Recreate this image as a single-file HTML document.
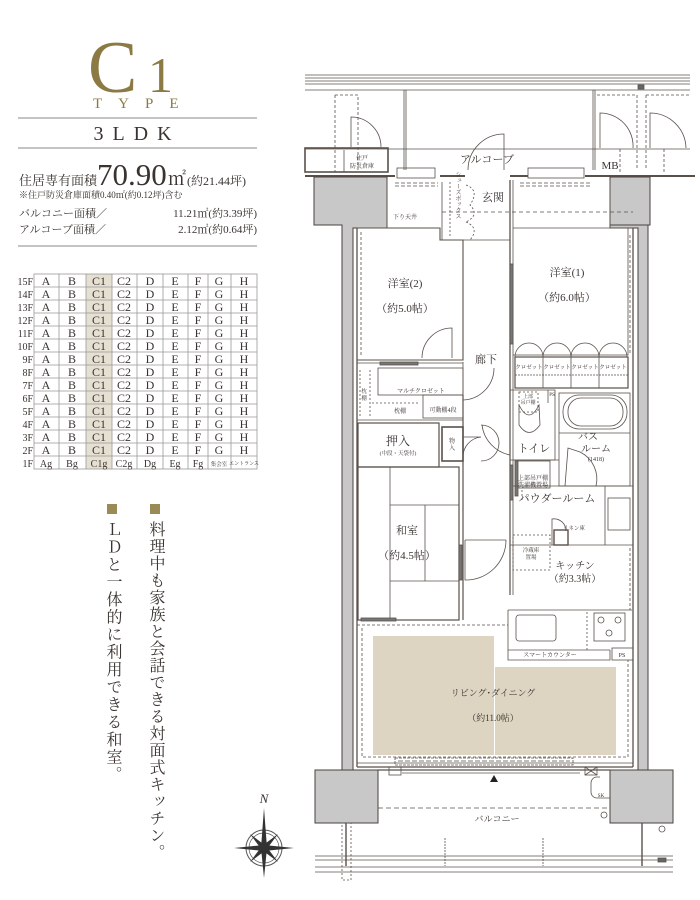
<!DOCTYPE html>
<html><head><meta charset="utf-8"><style>
html,body{margin:0;padding:0;background:#fff;}
body{width:700px;height:900px;overflow:hidden;position:relative;}
svg{position:absolute;left:0;top:0;}
text{font-family:"Liberation Serif","Noto Serif CJK SC",serif;fill:#3a3330;}
.v{position:absolute;writing-mode:vertical-rl;font-family:"Liberation Serif","Noto Serif CJK JP","Noto Serif CJK SC",serif;font-size:16px;color:#3a3330;letter-spacing:1.5px;line-height:1;}
</style></head><body>
<svg width="700" height="900" viewBox="0 0 700 900">
<!-- header -->
<text x="88" y="92" font-size="74" style="fill:#8b7a44">C</text>
<text x="148" y="92" font-size="50" style="fill:#8b7a44">1</text>
<text x="93" y="108" font-size="15" letter-spacing="16" style="fill:#8b7a44">TYPE</text>
<line x1="18" y1="118" x2="257" y2="118" stroke="#888" stroke-width="1"/>
<text x="137" y="140" font-size="20" text-anchor="middle" letter-spacing="9">3LDK</text>
<line x1="18" y1="148" x2="257" y2="148" stroke="#888" stroke-width="1"/>
<text x="19" y="185" font-size="13">住居専有面積</text>
<text x="97" y="185" font-size="31">70.90</text>
<text x="168" y="185" font-size="18">㎡</text>
<text x="187" y="185" font-size="12">(約21.44坪)</text>
<text x="19" y="198" font-size="9">※住戸防災倉庫面積0.40㎡(約0.12坪)含む</text>
<text x="19" y="217" font-size="11">バルコニー面積／</text>
<text x="257" y="217" font-size="11" text-anchor="end">11.21㎡(約3.39坪)</text>
<text x="19" y="233" font-size="11">アルコーブ面積／</text>
<text x="257" y="233" font-size="11" text-anchor="end">2.12㎡(約0.64坪)</text>
<line x1="18" y1="246" x2="257" y2="246" stroke="#888" stroke-width="1"/>
<!-- table -->
<rect x="86" y="274" width="26" height="195" fill="#e6e0d3"/>
<g stroke="#999" stroke-width="0.8" fill="none">
<rect x="34" y="274" width="223" height="195"/>
<line x1="59" y1="274" x2="59" y2="469"/><line x1="86" y1="274" x2="86" y2="469"/><line x1="112" y1="274" x2="112" y2="469"/><line x1="137" y1="274" x2="137" y2="469"/><line x1="163" y1="274" x2="163" y2="469"/><line x1="188" y1="274" x2="188" y2="469"/><line x1="208" y1="274" x2="208" y2="469"/><line x1="231" y1="274" x2="231" y2="469"/>
<line x1="34" y1="287" x2="257" y2="287"/><line x1="34" y1="300" x2="257" y2="300"/><line x1="34" y1="313" x2="257" y2="313"/><line x1="34" y1="326" x2="257" y2="326"/><line x1="34" y1="339" x2="257" y2="339"/><line x1="34" y1="352" x2="257" y2="352"/><line x1="34" y1="365" x2="257" y2="365"/><line x1="34" y1="378" x2="257" y2="378"/><line x1="34" y1="391" x2="257" y2="391"/><line x1="34" y1="404" x2="257" y2="404"/><line x1="34" y1="417" x2="257" y2="417"/><line x1="34" y1="430" x2="257" y2="430"/><line x1="34" y1="443" x2="257" y2="443"/><line x1="34" y1="456" x2="257" y2="456"/>
</g>
<g font-size="10" text-anchor="end">
<text x="33" y="285">15F</text><text x="33" y="298">14F</text><text x="33" y="311">13F</text><text x="33" y="324">12F</text><text x="33" y="337">11F</text><text x="33" y="350">10F</text><text x="33" y="363">9F</text><text x="33" y="376">8F</text><text x="33" y="389">7F</text><text x="33" y="402">6F</text><text x="33" y="415">5F</text><text x="33" y="428">4F</text><text x="33" y="441">3F</text><text x="33" y="454">2F</text><text x="33" y="467">1F</text>
</g>
<g font-size="12" text-anchor="middle">
<text x="46" y="285">A</text><text x="72" y="285">B</text><text x="99" y="285">C1</text><text x="124" y="285">C2</text><text x="150" y="285">D</text><text x="175" y="285">E</text><text x="198" y="285">F</text><text x="219" y="285">G</text><text x="244" y="285">H</text>
<text x="46" y="298">A</text><text x="72" y="298">B</text><text x="99" y="298">C1</text><text x="124" y="298">C2</text><text x="150" y="298">D</text><text x="175" y="298">E</text><text x="198" y="298">F</text><text x="219" y="298">G</text><text x="244" y="298">H</text>
<text x="46" y="311">A</text><text x="72" y="311">B</text><text x="99" y="311">C1</text><text x="124" y="311">C2</text><text x="150" y="311">D</text><text x="175" y="311">E</text><text x="198" y="311">F</text><text x="219" y="311">G</text><text x="244" y="311">H</text>
<text x="46" y="324">A</text><text x="72" y="324">B</text><text x="99" y="324">C1</text><text x="124" y="324">C2</text><text x="150" y="324">D</text><text x="175" y="324">E</text><text x="198" y="324">F</text><text x="219" y="324">G</text><text x="244" y="324">H</text>
<text x="46" y="337">A</text><text x="72" y="337">B</text><text x="99" y="337">C1</text><text x="124" y="337">C2</text><text x="150" y="337">D</text><text x="175" y="337">E</text><text x="198" y="337">F</text><text x="219" y="337">G</text><text x="244" y="337">H</text>
<text x="46" y="350">A</text><text x="72" y="350">B</text><text x="99" y="350">C1</text><text x="124" y="350">C2</text><text x="150" y="350">D</text><text x="175" y="350">E</text><text x="198" y="350">F</text><text x="219" y="350">G</text><text x="244" y="350">H</text>
<text x="46" y="363">A</text><text x="72" y="363">B</text><text x="99" y="363">C1</text><text x="124" y="363">C2</text><text x="150" y="363">D</text><text x="175" y="363">E</text><text x="198" y="363">F</text><text x="219" y="363">G</text><text x="244" y="363">H</text>
<text x="46" y="376">A</text><text x="72" y="376">B</text><text x="99" y="376">C1</text><text x="124" y="376">C2</text><text x="150" y="376">D</text><text x="175" y="376">E</text><text x="198" y="376">F</text><text x="219" y="376">G</text><text x="244" y="376">H</text>
<text x="46" y="389">A</text><text x="72" y="389">B</text><text x="99" y="389">C1</text><text x="124" y="389">C2</text><text x="150" y="389">D</text><text x="175" y="389">E</text><text x="198" y="389">F</text><text x="219" y="389">G</text><text x="244" y="389">H</text>
<text x="46" y="402">A</text><text x="72" y="402">B</text><text x="99" y="402">C1</text><text x="124" y="402">C2</text><text x="150" y="402">D</text><text x="175" y="402">E</text><text x="198" y="402">F</text><text x="219" y="402">G</text><text x="244" y="402">H</text>
<text x="46" y="415">A</text><text x="72" y="415">B</text><text x="99" y="415">C1</text><text x="124" y="415">C2</text><text x="150" y="415">D</text><text x="175" y="415">E</text><text x="198" y="415">F</text><text x="219" y="415">G</text><text x="244" y="415">H</text>
<text x="46" y="428">A</text><text x="72" y="428">B</text><text x="99" y="428">C1</text><text x="124" y="428">C2</text><text x="150" y="428">D</text><text x="175" y="428">E</text><text x="198" y="428">F</text><text x="219" y="428">G</text><text x="244" y="428">H</text>
<text x="46" y="441">A</text><text x="72" y="441">B</text><text x="99" y="441">C1</text><text x="124" y="441">C2</text><text x="150" y="441">D</text><text x="175" y="441">E</text><text x="198" y="441">F</text><text x="219" y="441">G</text><text x="244" y="441">H</text>
<text x="46" y="454">A</text><text x="72" y="454">B</text><text x="99" y="454">C1</text><text x="124" y="454">C2</text><text x="150" y="454">D</text><text x="175" y="454">E</text><text x="198" y="454">F</text><text x="219" y="454">G</text><text x="244" y="454">H</text>
<text x="46" y="467" font-size="10">Ag</text><text x="72" y="467" font-size="10">Bg</text><text x="99" y="467" font-size="10">C1g</text><text x="124" y="467" font-size="10">C2g</text><text x="150" y="467" font-size="10">Dg</text><text x="175" y="467" font-size="10">Eg</text><text x="198" y="467" font-size="10">Fg</text><text x="219" y="466" font-size="5.5">集会室</text><text x="244" y="465" font-size="5">エントランス</text>
</g>
<rect x="107" y="504" width="10" height="10" fill="#9a8a55"/>
<rect x="150" y="504" width="10" height="10" fill="#9a8a55"/>

<!-- compass -->
<g transform="translate(264,848)">
<text x="0" y="-45" font-size="13" font-style="italic" text-anchor="middle">N</text>
<circle r="18" fill="none" stroke="#555" stroke-width="1"/>
<circle r="15" fill="none" stroke="#555" stroke-width="0.7"/>
<polygon points="0,-40 3,0 0,5 -3,0" fill="#333"/>
<polygon points="0,30 3,0 -3,0" fill="#333"/>
<polygon points="-30,0 0,3 0,-3" fill="#333"/>
<polygon points="30,0 0,3 0,-3" fill="#333"/>
<polygon points="-14,-14 2,-2 -2,2" fill="#333"/><polygon points="14,-14 2,2 -2,-2" fill="#333"/>
<polygon points="-14,14 2,2 -2,-2" fill="#333"/><polygon points="14,14 -2,2 2,-2" fill="#333"/>
<circle r="5" fill="#333"/>
</g>

<!-- FLOOR PLAN -->
<g stroke="#5a504a" fill="none" stroke-width="0.8">
<line x1="305" y1="75" x2="690" y2="75"/><line x1="305" y1="78" x2="690" y2="78"/><line x1="305" y1="81" x2="690" y2="81"/><line x1="305" y1="84" x2="690" y2="84"/><line x1="305" y1="90" x2="690" y2="90"/>
<rect x="638" y="85" width="6" height="4" fill="#666"/>
<line x1="404" y1="90" x2="404" y2="170"/><line x1="406" y1="90" x2="406" y2="170"/>
<line x1="593" y1="90" x2="593" y2="170"/><line x1="595" y1="90" x2="595" y2="170"/>
<line x1="305" y1="149" x2="690" y2="149"/>
<g stroke-dasharray="3,2"><path d="M335 95 H358 V172"/><line x1="335" y1="95" x2="335" y2="172"/>
<path d="M597 95 H637 V170"/><path d="M646 95 H690"/><line x1="646" y1="95" x2="646" y2="170"/><line x1="620" y1="149" x2="620" y2="172"/><line x1="664" y1="149" x2="664" y2="172"/></g>
<path d="M351 147 V117 A30 30 0 0 1 381 147"/>
<path d="M600 148 V113 A33 33 0 0 1 633 148"/><path d="M650 148 V113 A36 36 0 0 1 686 148"/>
<path d="M468 170 A36 36 0 0 1 504 134 V170"/>
<rect x="305" y="148" width="83" height="24" stroke-width="1.6"/>
<line x1="344" y1="150" x2="344" y2="172"/>
<line x1="305" y1="176" x2="395" y2="176" stroke-width="2"/>
<line x1="440" y1="176" x2="465" y2="176" stroke-width="2"/>
<line x1="510" y1="176" x2="528" y2="176" stroke-width="2"/>
<line x1="585" y1="176" x2="695" y2="176" stroke-width="2"/>
<rect x="397" y="168" width="38" height="10"/><rect x="528" y="168" width="56" height="10"/>
<g stroke-dasharray="4,2"><line x1="395" y1="183" x2="438" y2="183"/><line x1="395" y1="186" x2="438" y2="186"/><line x1="520" y1="183" x2="590" y2="183"/><line x1="520" y1="186" x2="590" y2="186"/></g>
</g>
<g fill="#c8c8c8" stroke="#4a423d" stroke-width="1">
<path d="M314 177 H387 V228 H353 V772 H342 V225 H314 Z"/>
<path d="M610 177 H650 V225 H648 V772 H638 V228 H610 Z" />
<path d="M315 770 H378 V823 H315 Z"/>
<path d="M610 770 H673 V823 H610 Z"/>
<path d="M610 177 H650 V225 H610 Z"/>
</g>
<g stroke="#5a504a" fill="none" stroke-width="0.8">
<line x1="357" y1="228" x2="357" y2="767" stroke-width="1.3"/>
<line x1="633" y1="228" x2="633" y2="767" stroke-width="1.3"/>
<line x1="387" y1="180" x2="387" y2="228"/>
<path d="M610 180 V228 H633"/>
<line x1="357" y1="767" x2="633" y2="767" stroke-width="1.3"/>
<path d="M357 228 H440 V240 H463 V360 H357" stroke-width="1.1"/>
<line x1="361" y1="228" x2="440" y2="228" stroke-dasharray="3,2"/>
<line x1="361" y1="232" x2="361" y2="355" stroke-dasharray="3,2"/>
<path d="M422 358 A30 30 0 0 1 452 328 V358"/>
<path d="M442 182 V240 H510 V180"/>
<line x1="450" y1="182" x2="450" y2="238" stroke-dasharray="2,2"/>
<path d="M466 185 Q480 190 470 205 Q480 215 466 222" stroke-dasharray="2,2"/>
<path d="M466 222 Q480 228 470 240" stroke-dasharray="2,2"/>
<line x1="442" y1="212" x2="633" y2="212" stroke-dasharray="4,3"/>
<line x1="510" y1="180" x2="510" y2="400" stroke-width="1.3"/>
<line x1="513" y1="180" x2="513" y2="400"/>
<rect x="510" y="264" width="3" height="80" fill="#777"/>
<path d="M513 228 H628 V355 H513" />
<line x1="630" y1="235" x2="630" y2="355" stroke-dasharray="3,2"/>
<rect x="515" y="357" width="113" height="31" stroke-width="1.2"/>
<line x1="543" y1="357" x2="543" y2="388"/><line x1="571" y1="357" x2="571" y2="388"/><line x1="599" y1="357" x2="599" y2="388"/>
<line x1="515" y1="375" x2="628" y2="375" stroke-dasharray="2,1"/>
<path d="M515 357 A14 14 0 0 1 529 343 A14 14 0 0 1 543 357 A14 14 0 0 1 557 343 A14 14 0 0 1 571 357 A14 14 0 0 1 585 343 A14 14 0 0 1 599 357 A14 14 0 0 1 613 343 A14 14 0 0 1 627 357"/>
<path d="M463 362 V400 A32 32 0 0 0 494 368"/>
<path d="M357 363 H463"/>
<rect x="378" y="368" width="85" height="27"/>
<rect x="380" y="362" width="38" height="3" fill="#777"/>
<line x1="360" y1="370" x2="360" y2="418" stroke-dasharray="2,2"/>
<line x1="370" y1="370" x2="370" y2="418" stroke-dasharray="2,2"/>
<line x1="372" y1="403" x2="420" y2="403" stroke-dasharray="2,2"/>
<rect x="423" y="395" width="40" height="23"/>
<line x1="357" y1="420" x2="463" y2="420"/>
<line x1="463" y1="395" x2="463" y2="620" stroke-width="1.2"/>
<rect x="358" y="423" width="81" height="44" stroke-width="1.2"/>
<rect x="442" y="427" width="21" height="34" stroke-width="1.6"/>
<path d="M463 437 H481 A20 20 0 0 0 463 457"/>
<path d="M481 425 A18 18 0 0 1 481 461"/>
<path d="M482 425 A35 35 0 0 0 510 455"/>
<path d="M510 390 H555 V460 H510"/>
<line x1="548" y1="390" x2="548" y2="403"/>
<rect x="519" y="392" width="19" height="20" stroke-dasharray="2,2"/>
<path d="M519 405 Q529 425 539 405 L540 425 Q529 440 519 425 Z"/>
<rect x="559" y="393" width="71" height="93"/>
<rect x="563" y="395" width="64" height="34" rx="16"/>
<rect x="568" y="398" width="55" height="28" rx="13"/>
<line x1="559" y1="433" x2="630" y2="433"/>
<path d="M565 486 L568 448 L580 452 M580 452 A30 30 0 0 1 596 486"/>
<path d="M513 460 H559"/>
<rect x="517" y="461" width="33" height="27"/>
<rect x="515" y="461" width="3" height="35" fill="#777"/>
<line x1="522" y1="490" x2="522" y2="500" stroke-dasharray="2,2"/>
<path d="M513 486 H633 M605 486 V545"/>
<rect x="608" y="498" width="22" height="32"/>
<path d="M552 545 V519 A12 12 0 0 1 566 531"/>
<rect x="554" y="530" width="14" height="15" stroke-width="1.4"/>
<path d="M510 545 H633"/>
<line x1="510" y1="400" x2="510" y2="595" stroke-width="1.2"/>
<line x1="513" y1="400" x2="513" y2="595"/>
<rect x="510" y="465" width="3" height="35" fill="#777"/>
<rect x="513" y="535" width="37" height="35" stroke-dasharray="2,2"/>
<path d="M508 610 V660 H610 V650 M508 610 H632"/>
<line x1="630" y1="548" x2="630" y2="610" stroke-dasharray="3,2"/>
<rect x="516" y="615" width="40" height="26" rx="3"/>
<line x1="587" y1="612" x2="587" y2="650" stroke-dasharray="2,2"/>
<rect x="594" y="613" width="31" height="28"/>
<circle cx="601" cy="620" r="3"/><circle cx="618" cy="620" r="3"/><circle cx="609" cy="633" r="3"/>
<line x1="508" y1="650" x2="610" y2="650"/>
<rect x="612" y="648" width="21" height="12"/>
<rect x="358" y="467" width="101" height="153" stroke-width="1.2"/>
<line x1="390" y1="467" x2="390" y2="620"/>
<line x1="390" y1="505" x2="459" y2="505"/><line x1="390" y1="581" x2="459" y2="581"/>
<line x1="425" y1="505" x2="425" y2="581"/>
<rect x="459" y="545" width="3" height="35" fill="#777"/>
<rect x="361" y="618" width="35" height="3" fill="#777"/>
<path d="M465 540 V580 A40 40 0 0 0 506 540"/>
<line x1="465" y1="540" x2="506" y2="540"/>
<path d="M357 625 H508" stroke-dasharray="3,2"/>
<path d="M362 628 V757 H628 V660" stroke-dasharray="3,2"/>
<line x1="357" y1="763" x2="633" y2="763"/>
</g>
<rect x="373" y="636" width="121" height="119" fill="#ddd5c1"/>
<rect x="495" y="667" width="121" height="88" fill="#ddd5c1"/>
<g stroke="#5a504a" fill="none" stroke-width="0.8">
<rect x="395" y="758" width="178" height="7" stroke-dasharray="3,1"/>
<line x1="398" y1="761" x2="570" y2="761" stroke-dasharray="5,2"/>
<line x1="378" y1="770" x2="610" y2="770" stroke-width="1.2"/>
<line x1="402" y1="773" x2="580" y2="773"/>
<rect x="389" y="767" width="12" height="8"/><rect x="585" y="767" width="12" height="8"/>
<line x1="585" y1="767" x2="597" y2="775"/><line x1="597" y1="767" x2="585" y2="775"/>
<path d="M600 777 H596 A6 6 0 0 0 591 783 V792 A6 6 0 0 0 597 798 H610"/>
<line x1="378" y1="808" x2="610" y2="808" stroke-dasharray="5,3"/>
<circle cx="604" cy="815" r="3"/><circle cx="662" cy="829" r="3"/>
<line x1="315" y1="856" x2="673" y2="856"/><line x1="315" y1="860" x2="673" y2="860"/><line x1="315" y1="867" x2="673" y2="867"/><line x1="315" y1="872" x2="673" y2="872"/>
<line x1="346" y1="823" x2="346" y2="866" stroke-width="1.4"/>
<rect x="342" y="823" width="9" height="57" stroke-dasharray="2,2"/>
<line x1="642" y1="823" x2="642" y2="866" stroke-width="1.4"/>
<line x1="445" y1="838" x2="445" y2="866" stroke-dasharray="2,1"/>
<line x1="543" y1="838" x2="543" y2="866" stroke-dasharray="2,1"/>
<rect x="658" y="858" width="8" height="4" fill="#666"/>
</g>
<polygon points="494,775 490,782 498,782" fill="#222"/>

<g text-anchor="middle">
<text x="487" y="163" font-size="11">アルコーブ</text>
<text x="610" y="169" font-size="11">MB</text>
<text x="362" y="160" font-size="6">住戸</text><text x="362" y="168" font-size="6">防災倉庫</text>
<text x="493" y="201" font-size="11">玄関</text>
<text x="405" y="219" font-size="6">下り天井</text>
<text x="457" y="195" font-size="6" writing-mode="tb">シューズボックス</text>
<text x="405" y="287" font-size="11">洋室(2)</text>
<text x="405" y="312" font-size="11">（約5.0帖）</text>
<text x="567" y="276" font-size="11">洋室(1)</text>
<text x="567" y="301" font-size="11">（約6.0帖）</text>
<text x="486" y="363" font-size="11">廊下</text>
<g font-size="5.5"><text x="529" y="369">クロゼット</text><text x="557" y="369">クロゼット</text><text x="585" y="369">クロゼット</text><text x="613" y="369">クロゼット</text></g>
<text x="421" y="393" font-size="6">マルチクロゼット</text>
<text x="400" y="413" font-size="6">枕棚</text>
<text x="443" y="412" font-size="6">可動棚4段</text>
<text x="364" y="393" font-size="5.5">枕</text><text x="364" y="400" font-size="5.5">棚</text>
<text x="398" y="445" font-size="12">押入</text>
<text x="398" y="455" font-size="5.5">(中段・天袋付)</text>
<text x="452" y="443" font-size="6">物</text><text x="452" y="450" font-size="6">入</text>
<text x="534" y="452" font-size="11">トイレ</text>
<text x="528" y="398" font-size="5">上部</text><text x="528" y="404" font-size="5">吊戸棚</text>
<text x="552" y="396" font-size="5">PS</text>
<text x="588" y="440" font-size="10">バス</text>
<text x="596" y="452" font-size="10">ルーム</text>
<text x="596" y="461" font-size="6">(1418)</text>
<text x="533" y="480" font-size="6">上部吊戸棚</text><text x="533" y="487" font-size="6">洗濯機置場</text>
<text x="557" y="502" font-size="11">パウダールーム</text>
<text x="574" y="530" font-size="5.5">リネン庫</text>
<text x="531" y="552" font-size="5.5">冷蔵庫</text><text x="531" y="559" font-size="5.5">置場</text>
<text x="575" y="569" font-size="10">キッチン</text>
<text x="575" y="582" font-size="10">（約3.3帖）</text>
<text x="407" y="534" font-size="11">和室</text>
<text x="407" y="559" font-size="11">（約4.5帖）</text>
<text x="550" y="657" font-size="6">スマートカウンター</text>
<text x="622" y="657" font-size="6">PS</text>
<text x="493" y="696" font-size="9">リビング･ダイニング</text>
<text x="493" y="721" font-size="9">（約11.0帖）</text>
<text x="601" y="797" font-size="5">SK</text>
<text x="497" y="822" font-size="9">バルコニー</text>
</g>
</svg>
<div class="v" style="left:104px;top:521px;">ＬＤと一体的に利用できる和室。</div>
<div class="v" style="left:147px;top:521px;letter-spacing:1px;">料理中も家族と会話できる対面式キッチン。</div>
</body></html>
